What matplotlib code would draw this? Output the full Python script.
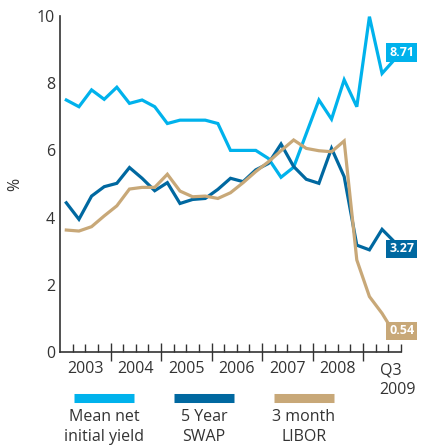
import matplotlib
matplotlib.use('Agg')
import matplotlib.pyplot as plt
import numpy as np
from matplotlib.lines import Line2D

plt.rcParams['font.family'] = ['Open Sans', 'DejaVu Sans']

# quarterly values, 2003 Q1 .. 2009 Q3
yield_net = [7.5, 7.3, 7.8, 7.52, 7.88, 7.4, 7.5, 7.3, 6.8, 6.9, 6.9, 6.9, 6.8,
             6.0, 6.0, 6.0, 5.76, 5.2, 5.5, 6.5, 7.5, 6.93, 8.1, 7.3, 9.98, 8.29, 8.71]
swap5 = [4.44, 3.95, 4.64, 4.92, 5.02, 5.49, 5.17, 4.8, 5.04, 4.42, 4.54, 4.57, 4.84,
         5.17, 5.07, 5.42, 5.61, 6.19, 5.52, 5.14, 5.02, 6.06, 5.22, 3.18, 3.04, 3.65, 3.27]
libor3 = [3.63, 3.6, 3.73, 4.05, 4.35, 4.85, 4.9, 4.9, 5.29, 4.79, 4.62, 4.64, 4.57,
          4.74, 5.04, 5.37, 5.66, 5.99, 6.31, 6.06, 5.99, 5.96, 6.28, 2.74, 1.65, 1.15, 0.54]
years = ['2003', '2004', '2005', '2006', '2007', '2008']
names = ['Mean net\ninitial yield', '5 Year\nSWAP', '3 month\nLIBOR']
colors = ['#00b2ec', '#0068a0', '#c8a878']
txt = '#333333'

n = len(yield_net)
t = np.arange(n) + 0.5

fig = plt.figure(figsize=(4.21, 4.48), dpi=100)
ax = fig.add_axes([60/421, 96/448, 341/421, 336/448])

for vals, c in zip([yield_net, swap5, libor3], colors):
    ax.plot(t, vals, color=c, lw=2.3, solid_joinstyle='miter')

# end labels
for vals, c, yoff in zip([yield_net, swap5, libor3], colors, [0.2, -0.2, 0.09]):
    ax.text(27.05, vals[-1] + yoff, f'{vals[-1]:.2f}', color='white', fontsize=9,
            fontweight='bold', ha='center', va='center', clip_on=False, zorder=5,
            bbox=dict(boxstyle='square,pad=0.22', fc=c, ec='none'))

ax.set_xlim(0, n)
ax.set_ylim(0, 10)
ax.set_yticks([0, 2, 4, 6, 8, 10])
ax.tick_params(axis='y', length=0, labelsize=11.5, labelcolor=txt, pad=3.5)
ax.set_ylabel('%', fontsize=11.5, color=txt, labelpad=10)

ax.set_xticks(np.arange(4, n, 4))
ax.set_xticks(np.arange(1, n + 1), minor=True)
ax.set_xticklabels([])
ax.tick_params(axis='x', which='major', direction='inout', length=13, width=1, color=txt)
ax.tick_params(axis='x', which='minor', direction='in', length=5.5, width=1, color=txt)

for i, y in enumerate(years):
    ax.text(4 * i + 2, -0.5, y, ha='center', va='center', fontsize=11.5, color=txt)
ax.text(25.3, -0.32, 'Q3\n2009', ha='left', va='top', fontsize=11.5, color=txt,
        linespacing=1.3, clip_on=False)

for s in ['top', 'right']:
    ax.spines[s].set_visible(False)
for s in ['left', 'bottom']:
    ax.spines[s].set_color(txt)
    ax.spines[s].set_linewidth(1.2)

# legend below
for k, (lab, c) in enumerate(zip(names, colors)):
    x0 = (74 + 100 * k) / 421
    x1 = (134 + 100 * k) / 421
    xc = (x0 + x1) / 2
    fig.add_artist(Line2D([x0, x1], [1 - 398/448] * 2, color=c, lw=6.5,
                          solid_capstyle='butt', transform=fig.transFigure))
    fig.text(xc, 1 - 409/448, lab, ha='center', va='top', fontsize=11.5,
             color=txt, linespacing=1.35)

fig.savefig('out.png', dpi=100)
